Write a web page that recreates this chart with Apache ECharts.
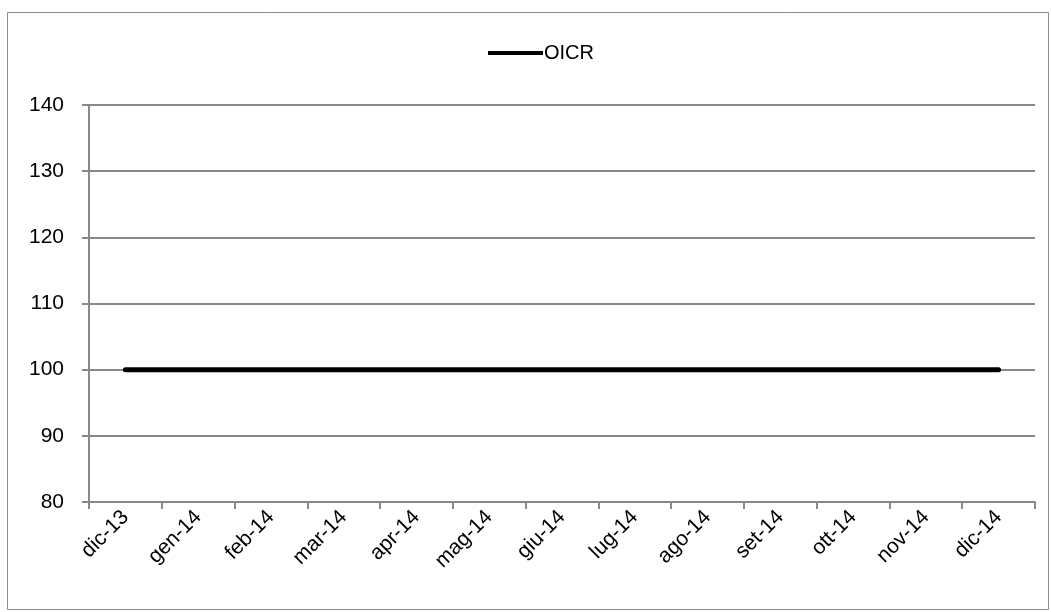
<!DOCTYPE html>
<html>
<head>
<meta charset="utf-8">
<script src="https://cdn.jsdelivr.net/npm/echarts@6/dist/echarts.min.js"></script>
<style>
  html, body { margin: 0; padding: 0; background: #fff; }
  #app { width: 1051px; height: 612px; }
</style>
</head>
<body>
<div id="app"></div>
<script>
// months on the category axis
var months = ['dic-13', 'gen-14', 'feb-14', 'mar-14', 'apr-14', 'mag-14', 'giu-14',
              'lug-14', 'ago-14', 'set-14', 'ott-14', 'nov-14', 'dic-14'];
// OICR index values
var oicr = [100, 100, 100, 100, 100, 100, 100, 100, 100, 100, 100, 100, 100];

var myChart = echarts.init(document.getElementById('app'));

var option = {
    animation: false,
    textStyle: { fontFamily: 'Liberation Sans, Arial, sans-serif' },
    graphic: [{
        type: 'rect',
        shape: { x: 7.5, y: 12.5, width: 1041, height: 597 },
        style: { fill: 'none', stroke: '#8c8c8c', lineWidth: 1 },
        silent: true
    }],
    legend: {
        top: 38,
        left: 483,
        itemWidth: 55,
        itemHeight: 20,
        itemGap: 4,
        icon: 'path://M0,8 L55,8 L55,12 L0,12 Z',
        textStyle: { fontSize: 20, color: '#000', padding: [0, 0, 0, -4] },
        data: ['OICR']
    },
    grid: {
        left: 89,
        right: 16,
        top: 105,
        bottom: 110,
        containLabel: false
    },
    xAxis: {
        type: 'category',
        boundaryGap: true,
        data: months,
        axisLine: { lineStyle: { color: '#888', width: 2 } },
        axisTick: { show: true, alignWithLabel: false, length: 7, lineStyle: { color: '#888', width: 2 } },
        axisLabel: {
            rotate: 45,
            interval: 0,
            fontSize: 21,
            color: '#000',
            margin: 12
        }
    },
    yAxis: {
        type: 'value',
        min: 80,
        max: 140,
        interval: 10,
        axisLine: { show: true, lineStyle: { color: '#888', width: 2 } },
        axisTick: { show: true, length: 7, lineStyle: { color: '#888', width: 2 } },
        splitLine: { show: true, lineStyle: { color: '#888', width: 2 } },
        axisLabel: { fontSize: 21, color: '#000', margin: 25 }
    },
    series: [{
        name: 'OICR',
        type: 'line',
        data: oicr,
        symbol: 'none',
        lineStyle: { color: '#000', width: 5, cap: 'round' },
        itemStyle: { color: '#000' }
    }]
};

myChart.setOption(option);
</script>
</body>
</html>
